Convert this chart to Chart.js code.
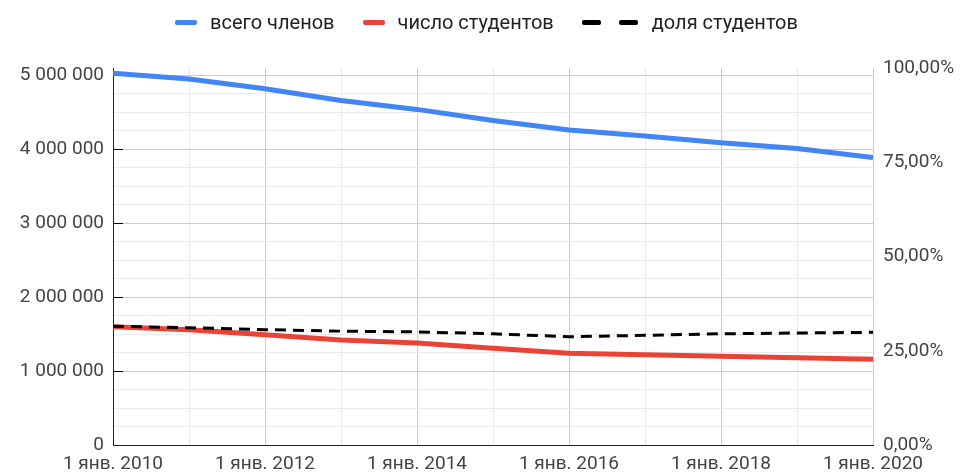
<!DOCTYPE html>
<html>
<head>
<meta charset="utf-8">
<script src="https://cdn.jsdelivr.net/npm/chart.js@4"></script>
<style>
  body { margin: 0; background: #fff; }
  #wrap { position: relative; width: 965px; height: 475px; }
  #legend {
    position: absolute; top: 0; left: 0; width: 965px; height: 44px;
    display: flex; justify-content: center; align-items: center;
    font-family: Roboto, sans-serif; font-size: 20px; color: #222;
    padding-left: 8px; box-sizing: border-box;
  }
  .item { display: flex; align-items: center; margin: 0 14px; }
  .mark { display: inline-block; height: 5px; border-radius: 2px; margin-right: 13px; }
  .dash { display: inline-block; width: 19px; height: 5px; border-radius: 2px; background: #000; }
</style>
</head>
<body>
<div id="wrap">
  <canvas id="chart" width="965" height="475"></canvas>
  <div id="legend"></div>
</div>
<script>
const years = [2010, 2011, 2012, 2013, 2014, 2015, 2016, 2017, 2018, 2019, 2020];
const totalMembers = [5030000, 4950000, 4820000, 4660000, 4540000, 4390000, 4260000, 4180000, 4090000, 4010000, 3890000];
const students = [1600000, 1560000, 1490000, 1420000, 1380000, 1310000, 1240000, 1220000, 1200000, 1180000, 1160000];
const studentShare = [31.5, 31.1, 30.6, 30.2, 30.0, 29.5, 28.7, 29.1, 29.5, 29.7, 29.9];

const labels = ["всего членов", "число студентов", "доля студентов"];

function fmt(v) {
  return String(v).replace(/\B(?=(\d{3})+(?!\d))/g, " ");
}

function isMillion(v) {
  return Math.abs(v - Math.round(v / 1000000) * 1000000) < 1;
}

function points(vals) {
  return years.map((y, i) => ({ x: y, y: vals[i] }));
}

Chart.defaults.font.family = "Roboto, sans-serif";

// short black ticks drawn inside the plot on the left axis
const innerTicks = {
  id: "innerTicks",
  beforeDatasetsDraw(chart) {
    const ctx = chart.ctx;
    const s = chart.scales.y;
    const left = chart.chartArea.left;
    ctx.save();
    ctx.strokeStyle = "#000";
    ctx.lineWidth = 1;
    for (let v = 1000000; v <= 5000000; v += 1000000) {
      const y = Math.round(s.getPixelForValue(v)) + 0.5;
      ctx.beginPath();
      ctx.moveTo(left, y);
      ctx.lineTo(left + 10, y);
      ctx.stroke();
    }
    ctx.restore();
  },
};

const chart = new Chart(document.getElementById("chart"), {
  type: "line",
  data: {
    datasets: [
      {
        label: labels[0],
        data: points(totalMembers),
        borderColor: "#4285f4",
        backgroundColor: "#4285f4",
        borderWidth: 5,
        pointRadius: 0,
        tension: 0,
        yAxisID: "y",
        order: 1,
      },
      {
        label: labels[1],
        data: points(students),
        borderColor: "#ea4335",
        backgroundColor: "#ea4335",
        borderWidth: 5,
        pointRadius: 0,
        tension: 0,
        yAxisID: "y",
        order: 2,
      },
      {
        label: labels[2],
        data: points(studentShare),
        borderColor: "#000",
        backgroundColor: "#000",
        borderWidth: 3,
        borderDash: [11, 7],
        pointRadius: 0,
        tension: 0,
        yAxisID: "y1",
        order: 0,
      },
    ],
  },
  options: {
    responsive: false,
    animation: false,
    layout: { padding: { top: 68, left: 0, right: 0, bottom: 0 } },
    plugins: { legend: { display: false }, tooltip: { enabled: false } },
    scales: {
      x: {
        type: "linear",
        min: 2010,
        max: 2020,
        ticks: {
          stepSize: 1,
          autoSkip: false,
          maxRotation: 0,
          padding: 8,
          color: "#444",
          font: { size: 19 },
          callback: (v) => (Math.round(v) % 2 === 0 ? "1 янв. " + Math.round(v) : ""),
        },
        grid: {
          drawTicks: false,
          color: (c) => (c.tick && Math.round(c.tick.value) % 2 === 0 ? "#cccccc" : "#ebebeb"),
        },
        border: { color: "#222", width: 1 },
        afterFit: (s) => { s.height = 30; },
      },
      y: {
        position: "left",
        min: 0,
        max: 5100000,
        afterBuildTicks: (s) => {
          const t = [];
          for (let v = 0; v <= 5000000; v += 250000) t.push({ value: v });
          s.ticks = t;
        },
        ticks: {
          autoSkip: false,
          padding: 9,
          color: "#444",
          font: { size: 19 },
          callback: (v) => (isMillion(v) ? fmt(Math.round(v)) : ""),
        },
        grid: {
          drawTicks: false,
          color: (c) => (c.tick && isMillion(c.tick.value) ? "#cccccc" : "#ebebeb"),
        },
        border: { color: "#222", width: 1 },
        afterFit: (s) => { s.width = 113; },
      },
      y1: {
        position: "right",
        min: 0,
        max: 100,
        ticks: {
          stepSize: 25,
          padding: 10,
          color: "#444",
          font: { size: 19 },
          callback: (v) => v.toFixed(2).replace(".", ",") + "%",
        },
        grid: { drawOnChartArea: false, drawTicks: false },
        border: { display: false },
        afterFit: (s) => { s.width = 92; },
      },
    },
  },
  plugins: [innerTicks],
});

// legend built from the chart's datasets
const legend = document.getElementById("legend");
chart.data.datasets.forEach((ds) => {
  const item = document.createElement("div");
  item.className = "item";
  if (ds.borderDash) {
    const m = document.createElement("span");
    m.style.display = "inline-flex";
    m.style.gap = "18px";
    m.style.marginRight = "14px";
    m.innerHTML = '<span class="dash"></span><span class="dash"></span>';
    item.appendChild(m);
  } else {
    const m = document.createElement("span");
    m.className = "mark";
    m.style.width = "22px";
    m.style.background = ds.borderColor;
    item.appendChild(m);
  }
  const t = document.createElement("span");
  t.textContent = ds.label;
  item.appendChild(t);
  legend.appendChild(item);
});
</script>
</body>
</html>
